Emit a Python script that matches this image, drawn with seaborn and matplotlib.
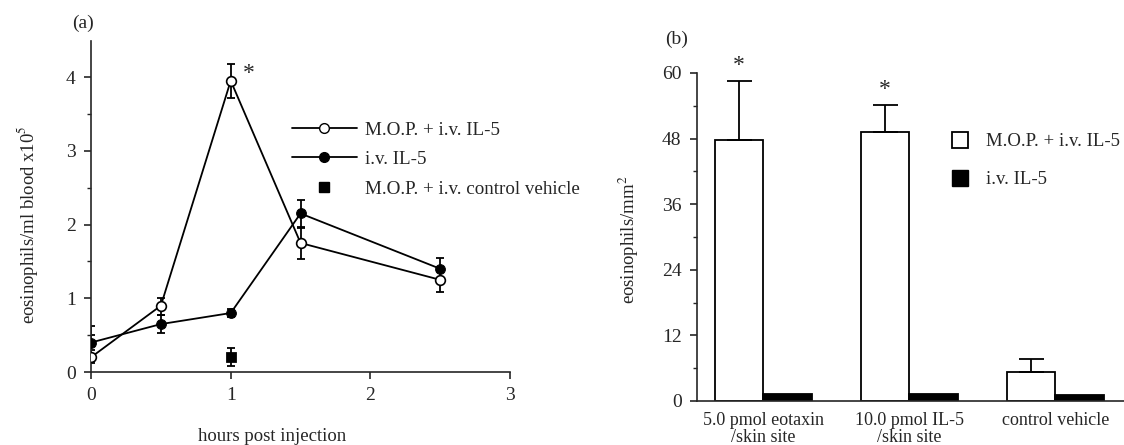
import numpy as np
import pandas as pd
import matplotlib
matplotlib.use("Agg")
import matplotlib.pyplot as plt
import seaborn as sns
from matplotlib.lines import Line2D
from matplotlib.patches import Patch

# panel (a): blood eosinophils over time
hours = [0, 0.5, 1, 1.5, 2.5]
mop_il5 = [0.2, 0.9, 3.95, 1.75, 1.25]
mop_il5_err_lo = [0.08, 0.12, 0.23, 0.22, 0.17]
mop_il5_err_hi = [0.42, 0.1, 0.23, 0.2, 0.12]
iv_il5 = [0.4, 0.65, 0.8, 2.15, 1.4]
iv_il5_err = [0.1, 0.12, 0.06, 0.18, 0.15]
ctrl_hours = [1]
ctrl_vehicle = [0.2]
ctrl_err = [0.12]

# panel (b): skin site eosinophils
sites = ["5.0 pmol eotaxin\n/skin site", "10.0 pmol IL-5\n/skin site", "control vehicle"]
treatments = ["M.O.P. + i.v. IL-5", "i.v. IL-5"]
skin_mop = [47.8, 49.2, 5.3]
skin_mop_err = [10.8, 5.0, 2.3]
skin_iv = [1.2, 1.2, 1.1]

sns.set_style("ticks")
plt.rcParams['font.family'] = ['Liberation Serif', 'DejaVu Serif']
plt.rcParams['mathtext.fontset'] = 'stix'
plt.rcParams['axes.linewidth'] = 1.2
plt.rcParams['xtick.major.width'] = 1.2
plt.rcParams['ytick.major.width'] = 1.2
plt.rcParams['ytick.minor.width'] = 1.0

FS = 14

fig = plt.figure(figsize=(11.24, 4.45), dpi=100)
ax1 = fig.add_axes([0.081, 0.164, 0.3728, 0.744])
ax2 = fig.add_axes([0.620, 0.099, 0.380, 0.737])

# ---- panel (a)
eb = dict(fmt='none', ecolor='black', elinewidth=1.3, capsize=2.8, capthick=1.3, zorder=2)
ax1.errorbar(hours, mop_il5, yerr=[mop_il5_err_lo, mop_il5_err_hi], **eb)
ax1.errorbar(hours, iv_il5, yerr=iv_il5_err, **eb)
ax1.errorbar(ctrl_hours, ctrl_vehicle, yerr=ctrl_err, **eb)
sns.lineplot(x=hours, y=iv_il5, ax=ax1, color='black', lw=1.3, marker='o',
             markersize=7, markerfacecolor='black', markeredgecolor='black', zorder=3)
sns.lineplot(x=hours, y=mop_il5, ax=ax1, color='black', lw=1.3, marker='o',
             markersize=7, markerfacecolor='white', markeredgecolor='black',
             markeredgewidth=1.2, zorder=4)
sns.scatterplot(x=ctrl_hours, y=ctrl_vehicle, ax=ax1, marker='s', s=50,
                color='black', edgecolor='black', zorder=4)
ax1.text(1.09, 4.05, "*", fontsize=17, ha='left', va='center')

ax1.set_xlim(0, 3.0)
ax1.set_ylim(0, 4.49)
ax1.set_xticks([0, 1, 2, 3])
ax1.set_yticks([0, 1, 2, 3, 4])
ax1.set_yticks(np.arange(0.5, 4.5, 1.0), minor=True)
ax1.tick_params(axis='both', labelsize=FS, length=5, pad=6, direction='out')
ax1.tick_params(axis='y', which='minor', length=3)
ax1.set_xlabel("hours post injection", fontsize=13.5)
ax1.xaxis.set_label_coords(0.432, -0.168)
ax1.set_ylabel("eosinophils/ml blood x10$^5$", fontsize=13.5)
ax1.yaxis.set_label_coords(-0.122, 0.445)
sns.despine(ax=ax1)
ax1.text(-0.045, 1.04, "(a)", transform=ax1.transAxes, fontsize=FS, ha='left')

handles_a = [
    Line2D([], [], color='black', lw=1.3, marker='o', markersize=7,
           markerfacecolor='white', markeredgecolor='black'),
    Line2D([], [], color='black', lw=1.3, marker='o', markersize=7,
           markerfacecolor='black'),
    Line2D([], [], color='black', ls='none', marker='s', markersize=7),
]
ax1.legend(handles_a, ["M.O.P. + i.v. IL-5", "i.v. IL-5", "M.O.P. + i.v. control vehicle"],
           loc='center left', bbox_to_anchor=(0.439, 0.642), frameon=False,
           fontsize=13.7, handlelength=3.4, labelspacing=0.64, handletextpad=0.45)

# ---- panel (b)
df_b = pd.DataFrame({
    "site": sites * 2,
    "treatment": [treatments[0]] * 3 + [treatments[1]] * 3,
    "value": skin_mop + skin_iv,
})
sns.barplot(data=df_b, x="site", y="value", hue="treatment", order=sites,
            hue_order=treatments, palette=['white', 'black'], edgecolor='black',
            linewidth=1.3, width=0.666, errorbar=None, legend=False, ax=ax2)
white_bars = ax2.patches[:3]
bar_x = [p.get_x() + p.get_width() / 2 for p in white_bars]
ax2.errorbar(bar_x, skin_mop, yerr=[[0] * 3, skin_mop_err], fmt='none',
             ecolor='black', elinewidth=1.3, capsize=9, capthick=1.3, zorder=1)
for xb, v, e, star in zip(bar_x, skin_mop, skin_mop_err, ["*", "*", ""]):
    ax2.text(xb, v + e + 0.8, star, fontsize=17, ha='center', va='bottom')

ax2.set_xlim(-0.456, 2.47)
ax2.set_ylim(0, 60)
ax2.set_yticks([0, 12, 24, 36, 48, 60])
ax2.set_yticks([6, 18, 30, 42, 54], minor=True)
ax2.tick_params(axis='y', labelsize=FS, length=5, pad=6, direction='out')
ax2.tick_params(axis='y', which='minor', length=3)
ax2.tick_params(axis='x', labelsize=13, length=0, pad=8)
ax2.set_xlabel("")
ax2.set_ylabel("eosinophils/mm$^2$", fontsize=13.5)
ax2.yaxis.set_label_coords(-0.13, 0.49)
for lab in ax2.get_xticklabels():
    lab.set_linespacing(1.0)
sns.despine(ax=ax2)
ax2.text(-0.075, 1.09, "(b)", transform=ax2.transAxes, fontsize=FS, ha='left')

handles_b = [Patch(facecolor='white', edgecolor='black', lw=1.3),
             Patch(facecolor='black', edgecolor='black')]
ax2.legend(handles_b, treatments, loc='center left', bbox_to_anchor=(0.557, 0.735),
           frameon=False, fontsize=13.5, handlelength=0.85, handleheight=0.95,
           labelspacing=1.05, handletextpad=1.0)

fig.savefig("out.png", dpi=100)
